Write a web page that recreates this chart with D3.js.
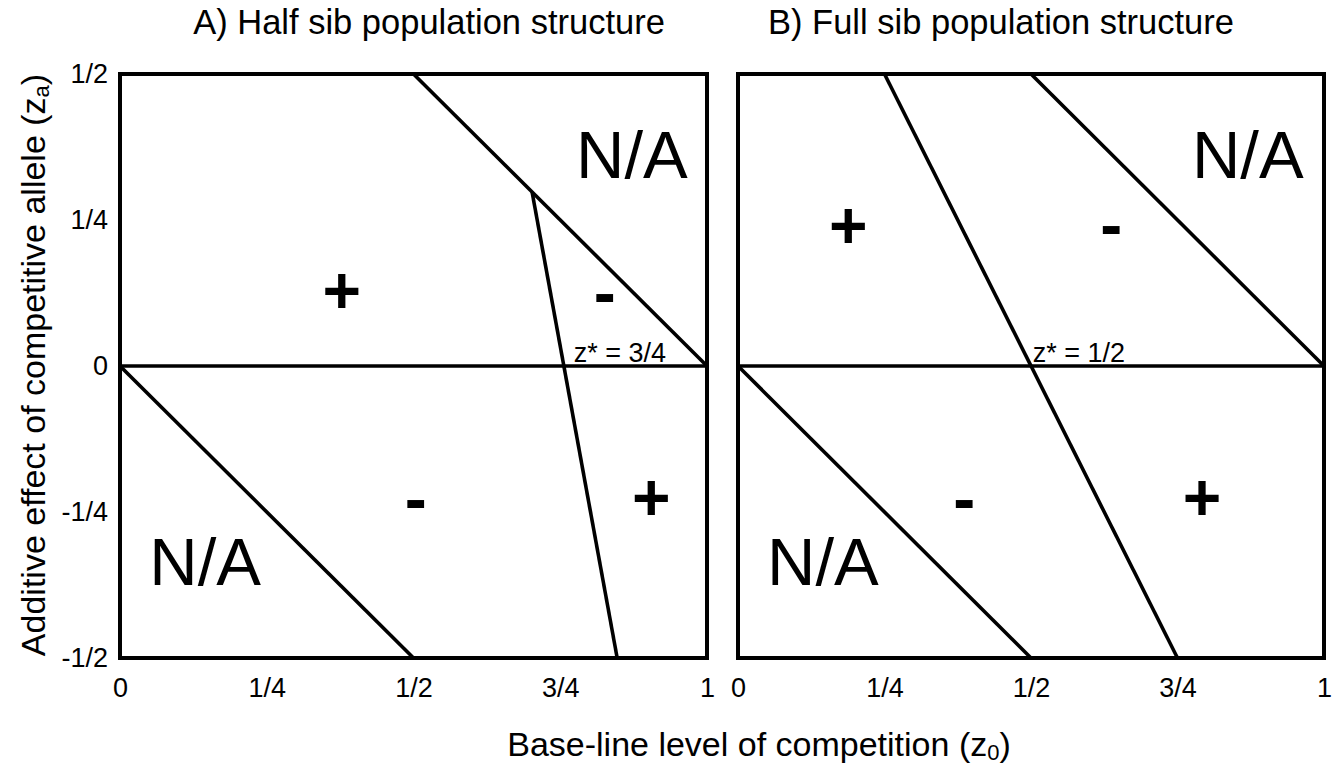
<!DOCTYPE html>
<html>
<head>
<meta charset="utf-8">
<script src="https://cdn.jsdelivr.net/npm/d3@7"></script>
<style>
  html, body { margin: 0; padding: 0; background: #fff; }
  svg { display: block; }
  text { font-family: "Liberation Sans", Arial, sans-serif; fill: #000; }
</style>
</head>
<body>
<svg id="chart" width="1342" height="768"></svg>
<script>
// Tick values and their fraction labels
const xTickValues = [0, 0.25, 0.5, 0.75, 1];
const xTickLabels = ["0", "1/4", "1/2", "3/4", "1"];
const yTickValues = [0.5, 0.25, 0, -0.25, -0.5];
const yTickLabels = ["1/2", "1/4", "0", "-1/4", "-1/2"];

// Panel titles
const panelTitles = ["A) Half sib population structure", "B) Full sib population structure"];

// Boundary lines per panel: [z0, za] endpoints
const halfSibLines = [
  [[0, 0], [1, 0]],
  [[0.5, 0.5], [1, 0]],
  [[0, 0], [0.5, -0.5]],
  [[0.702, 0.298], [0.847, -0.5]]
];
const fullSibLines = [
  [[0, 0], [1, 0]],
  [[0.5, 0.5], [1, 0]],
  [[0, 0], [0.5, -0.5]],
  [[0.25, 0.5], [0.75, -0.5]]
];

// Region labels: [z0, za, text]
const halfSibRegions = [
  [0.378, 0.130, "+"],
  [0.826, 0.120, "-"],
  [0.905, -0.224, "+"],
  [0.504, -0.233, "-"]
];
const fullSibRegions = [
  [0.188, 0.241, "+"],
  [0.637, 0.236, "-"],
  [0.792, -0.224, "+"],
  [0.386, -0.233, "-"]
];
const halfSibNA = [[0.872, 0.322], [0.145, -0.375]];
const fullSibNA = [[0.870, 0.322], [0.145, -0.375]];

// Critical value labels: [z0, za, text]
const halfSibZstar = [0.773, 0.006, "z* = 3/4"];
const fullSibZstar = [0.503, 0.006, "z* = 1/2"];

const svg = d3.select("#chart");

const y = d3.scaleLinear().domain([-0.5, 0.5]).range([658, 74]);

const panels = [
  { x: d3.scaleLinear().domain([0, 1]).range([120, 707]), lines: halfSibLines, regions: halfSibRegions,
    na: halfSibNA, zstar: halfSibZstar, title: panelTitles[0], titleX: 429, yTicks: true },
  { x: d3.scaleLinear().domain([0, 1]).range([738, 1324]), lines: fullSibLines, regions: fullSibRegions,
    na: fullSibNA, zstar: fullSibZstar, title: panelTitles[1], titleX: 1001, yTicks: false }
];

panels.forEach(p => {
  const g = svg.append("g");
  const x = p.x;

  // boundary lines
  g.selectAll("line.boundary").data(p.lines).join("line")
    .attr("class", "boundary")
    .attr("x1", d => x(d[0][0])).attr("y1", d => y(d[0][1]))
    .attr("x2", d => x(d[1][0])).attr("y2", d => y(d[1][1]))
    .attr("stroke", "#000").attr("stroke-width", 3.6)
    .attr("stroke-linecap", "butt");

  // frame
  g.append("rect")
    .attr("x", x(0)).attr("y", y(0.5))
    .attr("width", x(1) - x(0)).attr("height", y(-0.5) - y(0.5))
    .attr("fill", "none").attr("stroke", "#000").attr("stroke-width", 4);

  // x tick labels
  const xAxis = d3.axisBottom(x).tickValues(xTickValues)
    .tickFormat((d, i) => xTickLabels[i]).tickSize(0).tickPadding(0);
  const xa = g.append("g").attr("transform", `translate(0,${y(-0.5) + 30})`).call(xAxis);
  xa.select(".domain").remove();
  xa.selectAll("text").attr("font-size", 27).attr("font-family", "Liberation Sans, Arial, sans-serif")
    .attr("dy", "0.32em");

  // y tick labels
  if (p.yTicks) {
    const yAxis = d3.axisLeft(y).tickValues(yTickValues)
      .tickFormat((d, i) => yTickLabels[i]).tickSize(0).tickPadding(12);
    const ya = g.append("g").attr("transform", `translate(${x(0)},0)`).call(yAxis);
    ya.select(".domain").remove();
    ya.selectAll("text").attr("font-size", 27).attr("font-family", "Liberation Sans, Arial, sans-serif");
  }

  // region signs
  g.selectAll("text.sign").data(p.regions).join("text")
    .attr("class", "sign")
    .attr("x", d => x(d[0]))
    .attr("y", d => y(d[1]) + (d[2] === "+" ? 23 : 19))
    .attr("text-anchor", "middle")
    .attr("font-size", 66).attr("font-weight", "bold")
    .text(d => d[2]);

  // N/A labels
  g.selectAll("text.na").data(p.na).join("text")
    .attr("class", "na")
    .attr("x", d => x(d[0])).attr("y", d => y(d[1]))
    .attr("text-anchor", "middle").attr("font-size", 67)
    .text("N/A");

  // critical value
  g.append("text")
    .attr("x", x(p.zstar[0])).attr("y", y(p.zstar[1]))
    .attr("font-size", 27)
    .text(p.zstar[2]);

  // title
  g.append("text")
    .attr("x", p.titleX).attr("y", 34)
    .attr("text-anchor", "middle").attr("font-size", 34.5)
    .text(p.title);
});

// x axis title
const xt = svg.append("text").attr("x", 759).attr("y", 756)
  .attr("text-anchor", "middle").attr("font-size", 34);
xt.append("tspan").text("Base-line level of competition (z");
xt.append("tspan").attr("font-size", 22).attr("dy", 4).text("0");
xt.append("tspan").attr("dy", -4).text(")");

// y axis title
const yt = svg.append("text").attr("transform", "translate(45,365) rotate(-90)")
  .attr("text-anchor", "middle").attr("font-size", 34);
yt.append("tspan").text("Additive effect of competitive allele (z");
yt.append("tspan").attr("font-size", 22).attr("dy", 4).text("a");
yt.append("tspan").attr("dy", -4).text(")");
</script>
</body>
</html>
